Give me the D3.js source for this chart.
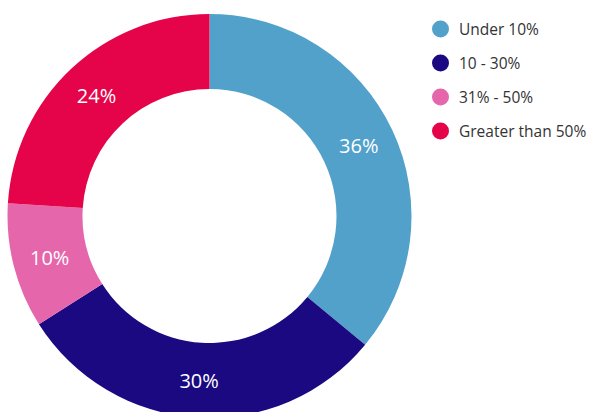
<!DOCTYPE html>
<html>
<head>
<meta charset="utf-8">
<script src="https://cdn.jsdelivr.net/npm/d3@7"></script>
<style>
  html, body { margin: 0; padding: 0; background: #fff; }
  svg { display: block; }
</style>
</head>
<body>
<svg id="chart" width="590" height="412"></svg>
<script>
// Share of respondents by band
const categories = ["Under 10%", "10 - 30%", "31% - 50%", "Greater than 50%"];
const values = [36, 30, 10, 24];
const colors = ["#51A1CB", "#1A0980", "#E666AC", "#E50449"];

const data = categories.map((c, i) => ({ category: c, value: values[i] }));

const svg = d3.select("#chart");

const cx = 209.5, cy = 216;
const outerR = 202, innerR = 127, labelR = 165;

const color = d3.scaleOrdinal().domain(categories).range(colors);

const pie = d3.pie()
  .value(d => d.value)
  .sort(null);

const arc = d3.arc().innerRadius(innerR).outerRadius(outerR);
const labelArc = d3.arc().innerRadius(labelR).outerRadius(labelR);

const g = svg.append("g").attr("transform", `translate(${cx},${cy})`);

const arcs = pie(data);

g.selectAll("path.slice")
  .data(arcs)
  .join("path")
  .attr("class", "slice")
  .attr("d", arc)
  .attr("fill", d => color(d.data.category));

g.selectAll("text.value")
  .data(arcs)
  .join("text")
  .attr("class", "value")
  .attr("transform", d => `translate(${labelArc.centroid(d)})`)
  .attr("text-anchor", "middle")
  .attr("dominant-baseline", "central")
  .attr("font-family", "'Open Sans', sans-serif")
  .attr("font-weight", 400)
  .attr("font-size", 20)
  .attr("fill", "#ffffff")
  .text(d => d.data.value + "%");

// Legend
const legend = svg.append("g").attr("transform", "translate(440.5,29)");
const rowStep = 34;

const items = legend.selectAll("g.item")
  .data(categories)
  .join("g")
  .attr("class", "item")
  .attr("transform", (d, i) => `translate(0,${i * rowStep})`);

items.append("circle")
  .attr("r", 8.5)
  .attr("fill", d => color(d));

items.append("text")
  .attr("x", 18.5)
  .attr("dominant-baseline", "central")
  .attr("font-family", "'Open Sans', sans-serif")
  .attr("font-size", 15.5)
  .attr("fill", "#333333")
  .text(d => d);
</script>
</body>
</html>
